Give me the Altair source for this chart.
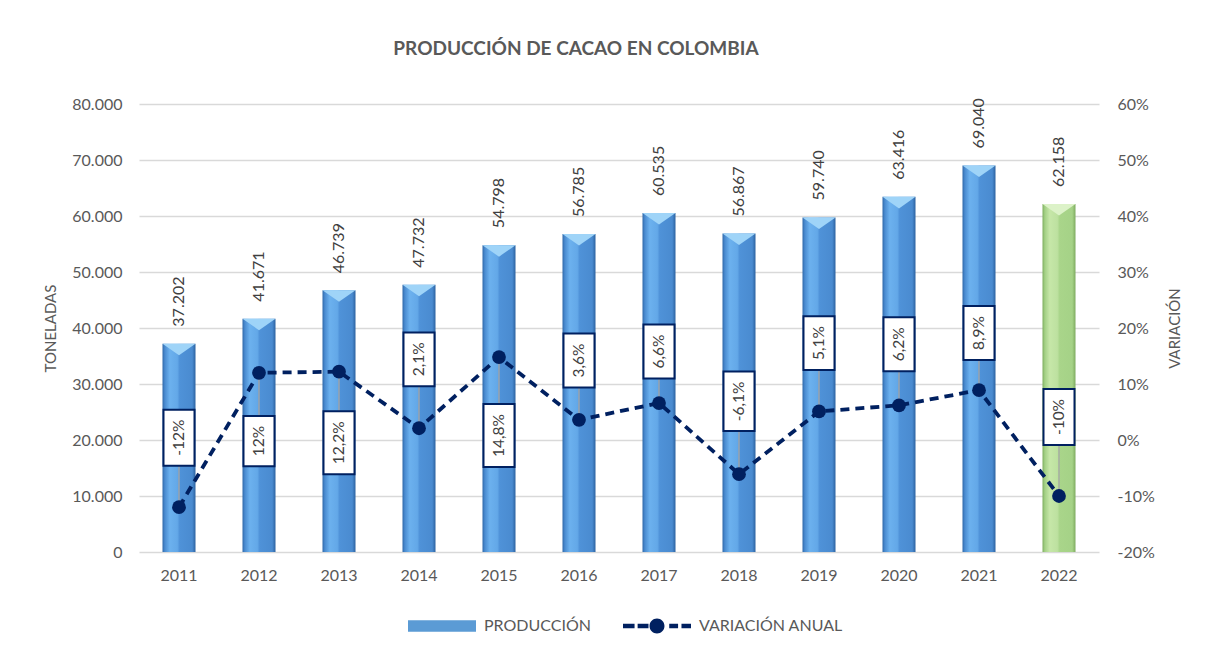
import altair as alt
import pandas as pd

# ---------------- data ----------------
anios = ["2011", "2012", "2013", "2014", "2015", "2016",
         "2017", "2018", "2019", "2020", "2021", "2022"]
produccion = [37202, 41671, 46739, 47732, 54798, 56785,
              60535, 56867, 59740, 63416, 69040, 62158]
variacion = [-0.12, 0.12, 0.122, 0.021, 0.148, 0.036,
             0.066, -0.061, 0.051, 0.062, 0.089, -0.10]
# centre of each callout box (in the units of the right axis)
centro_etiqueta = [0.004, -0.002, -0.005, 0.144, 0.008, 0.142,
                   0.158, 0.069, 0.173, 0.171, 0.191, 0.041]
series = ["PRODUCCIÓN", "VARIACIÓN ANUAL"]
titulo = "PRODUCCIÓN DE CACAO EN COLOMBIA"

FONT = "Lato"
GRAY = "#595959"
TXT = "#404040"
NAVY = "#002060"
W, H = 960, 448
PX = 0.8 / H  # right-axis units per pixel


def pct_label(v):
    p = round(v * 100, 1)
    if abs(p - round(p)) < 1e-9:
        return f"{int(round(p))}%"
    return f"{p:.1f}%".replace(".", ",")


def text_px(s, size=15.5):
    w = {",": 0.23, "-": 0.36, "%": 0.8}
    return sum(w.get(c, 0.58) for c in s) * size


df = pd.DataFrame({"anio": anios, "prod": produccion, "var": variacion,
                   "centro": centro_etiqueta})
df["et_prod"] = [f"{v:,}".replace(",", ".") for v in produccion]
df["et_var"] = [pct_label(v) for v in variacion]
alto = [text_px(s) + 20 for s in df["et_var"]]
df["caja_lo"] = [c - h * PX / 2 for c, h in zip(centro_etiqueta, alto)]
df["caja_hi"] = [c + h * PX / 2 for c, h in zip(centro_etiqueta, alto)]
df["serie"] = series[0]

# ---------------- scales / axes ----------------
x_enc = alt.X("anio:N",
              scale=alt.Scale(paddingInner=0, paddingOuter=0),
              axis=alt.Axis(title=None, labelAngle=0, domain=False, ticks=False,
                            labelPadding=15, labelFontSize=16, labelColor=GRAY,
                            labelFont=FONT))

y_left_scale = alt.Scale(domain=[0, 80000], nice=False, zero=True)
y_right_scale = alt.Scale(domain=[-0.2, 0.6], nice=False, zero=False)

eje_izq = alt.Axis(orient="left", values=list(range(0, 80001, 10000)),
                   labelExpr="replace(format(datum.value, ','), ',', '.')",
                   grid=True, gridColor="#d9d9d9", gridWidth=1.3,
                   domain=False, ticks=False, labelPadding=17,
                   labelFontSize=16, labelColor=GRAY, labelFont=FONT,
                   title="TONELADAS", titleFontSize=15,
                   titleFontWeight="normal", titleColor=GRAY,
                   titleFont=FONT, titlePadding=13)

eje_der = alt.Axis(orient="right",
                   values=[-0.2, -0.1, 0, 0.1, 0.2, 0.3, 0.4, 0.5, 0.6],
                   labelExpr="replace(format(datum.value, '.0%'), '\u2212', '-')",
                   grid=False, domain=False, ticks=False, labelPadding=18,
                   labelFontSize=16, labelColor=GRAY, labelFont=FONT,
                   title="VARIACIÓN", titleAngle=270, titleFontSize=15,
                   titleFontWeight="normal", titleColor=GRAY,
                   titleFont=FONT, titlePadding=28)


def yl(field, axis=None):
    return alt.Y(field, scale=y_left_scale, axis=axis)


def yr(field, axis=None):
    return alt.Y(field, scale=y_right_scale, axis=axis)


# ---------------- fills ----------------
def grad(stops):
    return alt.Gradient(gradient="linear", x1=0, x2=1, y1=0, y2=0,
                        stops=[alt.GradientStop(color=c, offset=o) for o, c in stops])


azul = grad([(0, "#2f68a8"), (0.07, "#4a8bd0"), (0.22, "#6cb1ee"),
             (0.45, "#63a8e8"), (0.52, "#4f92d8"), (0.9, "#4a8bd0"), (1, "#2c62a0")])
verde = grad([(0, "#7dad5e"), (0.07, "#a3d085"), (0.22, "#c6e7a8"),
              (0.45, "#bde1a0"), (0.52, "#a9d58a"), (0.9, "#a5d287"), (1, "#7eab60")])

base = alt.Chart(df)

barras_azul = base.transform_filter("datum.anio != '2022'").mark_bar(
    width=33, fill=azul).encode(x=x_enc, y=yl("prod:Q", eje_izq))
barras_verde = base.transform_filter("datum.anio == '2022'").mark_bar(
    width=33, fill=verde).encode(x=x_enc, y=yl("prod:Q"))

triangulo = "M-1,0L1,0L0,0.7Z"
bisel_azul = base.transform_filter("datum.anio != '2022'").mark_point(
    shape=triangulo, size=33 * 33, filled=True, fill="#9fd4f8", strokeWidth=0,
    opacity=1).encode(x=x_enc, y=yl("prod:Q"))
bisel_verde = base.transform_filter("datum.anio == '2022'").mark_point(
    shape=triangulo, size=33 * 33, filled=True, fill="#dcf2c8", strokeWidth=0,
    opacity=1).encode(x=x_enc, y=yl("prod:Q"))

texto_prod = base.mark_text(angle=270, align="left", baseline="middle",
                            yOffset=-17, fontSize=16, color=TXT, font=FONT).encode(
    x=x_enc, y=yl("prod:Q"), text="et_prod:N")

# legend (no marks drawn, only the legend of the two series)
path_rect = "M-1,-0.17L1,-0.17L1,0.17L-1,0.17Z"
path_linea = ("M-1,-0.065L-0.66,-0.065L-0.66,0.065L-1,0.065Z"
              "M-0.57,-0.065L-0.25,-0.065L-0.25,0.065L-0.57,0.065Z"
              "M0.22,0A0.22,0.22 0 1,1 -0.22,0A0.22,0.22 0 1,1 0.22,0Z"
              "M0.36,-0.065L0.62,-0.065L0.62,0.065L0.36,0.065Z"
              "M0.72,-0.065L1,-0.065L1,0.065L0.72,0.065Z")
leg = alt.Legend(orient="none", legendX=269, legendY=488, direction="horizontal",
                 title=None, symbolSize=68 * 68, labelFontSize=16, labelColor=GRAY,
                 labelFont=FONT, symbolStrokeWidth=0, columnPadding=32,
                 labelOffset=8, padding=0)
leyenda = base.transform_filter("false").mark_point(filled=True, opacity=1).encode(
    x=x_enc, y=yl("prod:Q"),
    color=alt.Color("serie:N", scale=alt.Scale(domain=series, range=["#5b9bd5", NAVY]),
                    legend=leg),
    shape=alt.Shape("serie:N", scale=alt.Scale(domain=series, range=[path_rect, path_linea]),
                    legend=leg))

# ---------------- variation (right axis) ----------------
guias = base.mark_rule(color="#a6a6a6", strokeWidth=1.3).encode(
    x=x_enc, y=yr("var:Q", eje_der), y2="centro:Q")
linea = base.mark_line(color=NAVY, strokeWidth=3.8, strokeDash=[9, 6]).encode(
    x=x_enc, y=yr("var:Q"))
puntos = base.mark_circle(size=190, color=NAVY, opacity=1).encode(
    x=x_enc, y=yr("var:Q"))
cajas = base.mark_bar(width=31, fill="white", stroke=NAVY, strokeWidth=2).encode(
    x=x_enc, y=yr("caja_lo:Q"), y2="caja_hi:Q")
texto_var = base.mark_text(angle=270, align="center", baseline="middle",
                           fontSize=15.5, color=TXT, font=FONT).encode(
    x=x_enc, y=yr("centro:Q"), text="et_var:N")

chart = alt.layer(
    barras_azul, barras_verde, bisel_azul, bisel_verde, texto_prod, leyenda,
    guias, linea, puntos, cajas, texto_var,
    title=alt.TitleParams(titulo, fontSize=19, fontWeight="bold", color=GRAY,
                          font=FONT, anchor="middle", offset=37, dx=-43),
).resolve_scale(y="independent").properties(
    width=W, height=H,
    autosize=alt.AutoSizeParams(type="none"),
    padding={"left": 131, "top": 96, "right": 118, "bottom": 95},
).configure(font=FONT, view=alt.ViewConfig(stroke=None))

chart.save("out.html", embed_options={"renderer": "svg", "actions": False})
